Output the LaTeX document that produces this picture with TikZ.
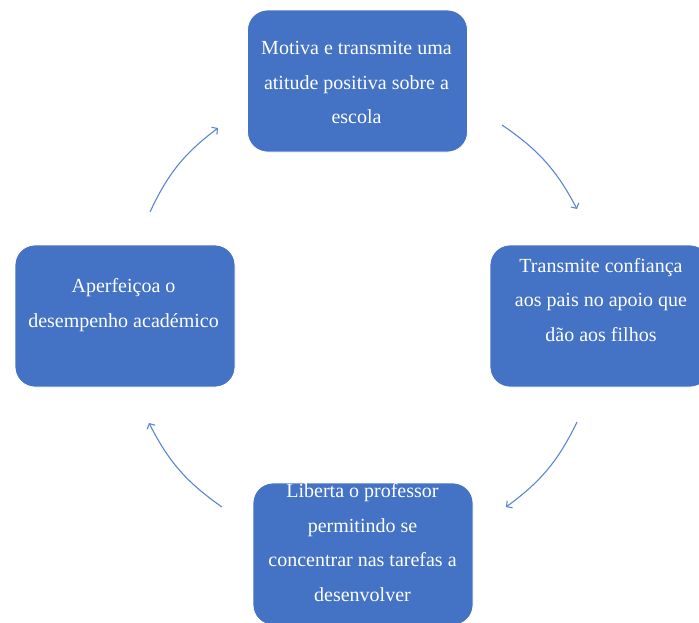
\documentclass[tikz,border=0pt]{standalone}
\usepackage{fontspec}
\setmainfont{Liberation Serif}
\usetikzlibrary{arrows.meta}
\definecolor{stageblue}{HTML}{4472C4}
\definecolor{cycleblue}{HTML}{5A86D2}

\begin{document}
\begin{tikzpicture}[x=1pt,y=1pt,
    stage/.style={fill=stageblue, draw=white, line width=0.8pt, rounded corners=20pt,
      minimum width=220pt, minimum height=142pt, inner sep=0pt},
    caption/.style={text=white, align=center, inner sep=0pt,
      font=\fontsize{20}{34.5}\selectfont},
    cycle/.style={draw=cycleblue, line width=1.1pt, bend left=14,
      -{Straight Barb[length=4pt,width=9pt]}}]
  \useasboundingbox (0,0) rectangle (699,-622);

  \node[stage] (motiva) at (357.5,-81) {};
  \node[stage] (confianca) at (600,-316) {};
  \node[stage] (liberta) at (363,-554) {};
  \node[stage] (aperfeicoa) at (125,-316) {};

  \node[caption] (motiva text) at (356.5,-82.5) {Motiva e transmite uma\\atitude positiva sobre a\\escola};
  \node[caption] (confianca text) at (601,-300) {Transmite confiança\\aos pais no apoio que\\dão aos filhos};
  \node[caption] (liberta text) at (362.5,-542.5) {Liberta o professor\\permitindo se\\concentrar nas tarefas a\\desenvolver};
  \node[caption] (aperfeicoa text) at (123.5,-305) {Aperfeiçoa o\\desempenho académico};

  % ends of the curved arrows
  \coordinate (motiva out) at (502,-125);
  \coordinate (confianca in) at (577,-209);
  \coordinate (confianca out) at (577,-422);
  \coordinate (liberta in) at (506,-507);
  \coordinate (liberta out) at (222,-507);
  \coordinate (aperfeicoa in) at (149,-423);
  \coordinate (aperfeicoa out) at (150,-212);
  \coordinate (motiva in) at (218,-128);

  \draw[cycle] (motiva out) to (confianca in);
  \draw[cycle] (confianca out) to (liberta in);
  \draw[cycle] (liberta out) to (aperfeicoa in);
  \draw[cycle] (aperfeicoa out) to (motiva in);
\end{tikzpicture}
\end{document}
